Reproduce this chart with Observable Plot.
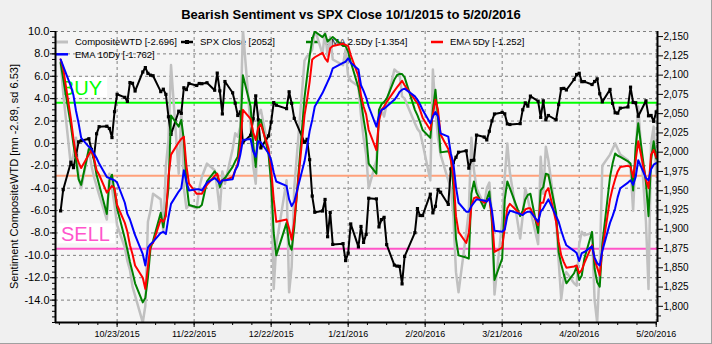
<!DOCTYPE html>
<html>
<head>
<meta charset="utf-8">
<script src="https://cdn.jsdelivr.net/npm/d3@7"></script>
<script src="https://cdn.jsdelivr.net/npm/@observablehq/plot@0.6"></script>
<style>
  html, body { margin: 0; padding: 0; background: #f0f0f0; }
  #chart svg { display: block; }
</style>
</head>
<body>
<div id="chart"></div>
<script>
// ---------- DATA ----------
const dates = [
"2015-10-01","2015-10-02","2015-10-05","2015-10-06","2015-10-07","2015-10-08","2015-10-09","2015-10-12","2015-10-13","2015-10-14","2015-10-15","2015-10-16","2015-10-19","2015-10-20","2015-10-21","2015-10-22","2015-10-23","2015-10-26","2015-10-27","2015-10-28","2015-10-29","2015-10-30",
"2015-11-02","2015-11-03","2015-11-04","2015-11-05","2015-11-06","2015-11-09","2015-11-10","2015-11-11","2015-11-12","2015-11-13","2015-11-16","2015-11-17","2015-11-18","2015-11-19","2015-11-20","2015-11-23","2015-11-24","2015-11-25","2015-11-27","2015-11-30",
"2015-12-01","2015-12-02","2015-12-03","2015-12-04","2015-12-07","2015-12-08","2015-12-09","2015-12-10","2015-12-11","2015-12-14","2015-12-15","2015-12-16","2015-12-17","2015-12-18","2015-12-21","2015-12-22","2015-12-23","2015-12-24","2015-12-28","2015-12-29","2015-12-30","2015-12-31",
"2016-01-04","2016-01-05","2016-01-06","2016-01-07","2016-01-08","2016-01-11","2016-01-12","2016-01-13","2016-01-14","2016-01-15","2016-01-19","2016-01-20","2016-01-21","2016-01-22","2016-01-25","2016-01-26","2016-01-27","2016-01-28","2016-01-29",
"2016-02-01","2016-02-02","2016-02-03","2016-02-04","2016-02-05","2016-02-08","2016-02-09","2016-02-10","2016-02-11","2016-02-12","2016-02-16","2016-02-17","2016-02-18","2016-02-19","2016-02-22","2016-02-23","2016-02-24","2016-02-25","2016-02-26","2016-02-29",
"2016-03-01","2016-03-02","2016-03-03","2016-03-04","2016-03-07","2016-03-08","2016-03-09","2016-03-10","2016-03-11","2016-03-14","2016-03-15","2016-03-16","2016-03-17","2016-03-18","2016-03-21","2016-03-22","2016-03-23","2016-03-24","2016-03-28","2016-03-29","2016-03-30","2016-03-31",
"2016-04-01","2016-04-04","2016-04-05","2016-04-06","2016-04-07","2016-04-08","2016-04-11","2016-04-12","2016-04-13","2016-04-14","2016-04-15","2016-04-18","2016-04-19","2016-04-20","2016-04-21","2016-04-22","2016-04-25","2016-04-26","2016-04-27","2016-04-28","2016-04-29",
"2016-05-02","2016-05-03","2016-05-04","2016-05-05","2016-05-06","2016-05-09","2016-05-10","2016-05-11","2016-05-12","2016-05-13","2016-05-16","2016-05-17","2016-05-18","2016-05-19","2016-05-20"
];

const spxClose = [
1923.82,1951.36,1987.05,1979.92,1995.83,2013.43,2014.89,2017.46,2003.69,1994.24,2023.86,2033.11,2033.66,2030.77,2018.94,2052.51,2075.15,2071.18,2065.89,2090.35,2089.41,2079.36,
2104.05,2109.79,2102.31,2099.93,2099.20,2078.58,2081.72,2075.00,2045.97,2023.04,2053.19,2050.44,2083.58,2081.24,2089.17,2086.59,2089.14,2088.87,2090.11,2080.41,
2102.63,2079.51,2049.62,2091.69,2077.07,2063.59,2047.62,2052.23,2012.37,2021.94,2043.41,2073.07,2041.89,2005.55,2021.15,2038.97,2064.29,2060.99,2056.50,2078.36,2063.36,2043.94,
2012.66,2016.71,1990.26,1943.09,1922.03,1923.67,1938.68,1890.28,1921.84,1880.33,1881.33,1859.33,1868.99,1906.90,1877.08,1903.63,1882.95,1893.36,1940.24,
1939.38,1903.03,1912.53,1915.45,1880.05,1853.44,1852.21,1851.86,1829.08,1864.78,1895.58,1926.82,1917.83,1917.78,1945.50,1921.27,1929.80,1951.70,1948.05,1932.23,
1978.35,1986.45,1993.40,1999.99,2001.76,1979.26,1989.26,1989.57,2022.19,2019.64,2015.93,2027.22,2040.59,2049.58,2051.60,2049.80,2036.71,2035.94,2037.05,2055.01,2063.95,2059.74,
2072.78,2066.13,2045.17,2066.66,2041.91,2047.60,2041.99,2061.72,2082.42,2082.78,2080.73,2094.34,2100.80,2102.40,2091.48,2091.58,2087.79,2091.70,2095.15,2075.81,2065.30,
2081.43,2063.37,2051.12,2050.63,2057.14,2058.69,2084.39,2064.46,2064.11,2046.61,2066.66,2047.21,2047.63,2040.04,2052.32
];

const compositeWTD = [
7.3,4.5,-2.0,-1.0,0.5,-3.0,-4.0,-0.5,-2.0,-3.0,-3.8,-4.6,-6.8,-2.7,-4.0,-5.5,-7.3,-9.3,-10.5,-11.3,-12.8,-13.6,
-16.0,-14.5,-7.0,-6.0,-4.5,-5.0,-7.9,-2.0,0.3,7.0,-2.7,3.0,-4.0,-5.8,-5.5,-5.8,-4.0,-3.0,-1.8,-2.4,
-4.0,-6.0,-2.5,-3.6,-0.5,0.9,0.6,1.5,10.2,1.5,-2.0,-3.6,2.5,3.0,-0.5,-3.6,-13.0,-9.1,-3.3,-13.3,-11.0,-4.0,
7.4,7.8,8.0,8.4,10.2,8.0,10.0,7.8,9.5,7.5,7.0,8.4,6.0,5.6,5.1,2.5,0.5,-1.0,-4.0,
-1.5,2.1,3.0,2.4,3.5,6.6,6.4,6.3,4.2,4.0,1.8,1.3,1.0,0.0,-3.3,6.6,3.0,0.5,-1.0,-3.3,
-4.0,-6.5,-11.5,-13.3,-8.0,-6.0,0.5,-2.4,-4.0,-5.5,-4.0,-3.5,-6.5,-13.5,-7.0,-3.0,0.0,-2.6,-8.5,-6.5,-4.0,-5.0,
-6.0,-9.0,-1.2,-4.5,-0.3,-1.5,-6.8,-10.5,-13.9,-12.0,-11.5,-12.5,-12.7,-9.0,-7.9,-8.2,-8.0,-14.0,-16.0,-11.0,-2.0,
-1.0,-0.5,0.0,-0.5,-1.0,-1.5,-2.2,-6.0,-1.0,3.3,-7.0,-13.0,0.0,1.5,-2.696
];

const ema25 = [
7.2,5.8,1.6,-0.1,-1.5,-3.2,-3.7,-0.5,-0.6,-1.5,-2.8,-3.7,-6.3,-3.3,-2.8,-4.3,-5.8,-8.5,-9.5,-10.6,-11.5,-12.5,
-14.2,-13.8,-12.0,-9.4,-8.7,-6.2,-7.5,-6.0,-4.0,2.5,1.5,2.1,0.3,-3.5,-5.5,-5.7,-5.7,-5.5,-3.4,-2.5,
-2.8,-3.9,-3.3,-3.1,-2.1,-1.6,-1.2,1.0,6.1,3.3,0.0,-2.1,1.8,2.1,-1.0,-3.5,-8.0,-10.0,-7.1,-9.0,-9.5,-7.5,
4.1,6.0,7.8,9.3,10.0,9.5,9.8,9.1,9.3,9.5,8.7,8.7,8.2,7.3,5.0,3.8,2.2,0.8,-1.8,
-2.7,3.0,3.5,3.7,4.0,5.7,6.1,6.2,6.2,5.9,3.0,2.5,1.9,1.2,0.5,3.0,4.8,2.3,-0.8,-0.7,
-1.0,-4.0,-8.5,-10.0,-10.2,-10.3,-4.5,-3.4,-4.4,-5.8,-5.0,-4.3,-7.0,-12.2,-10.3,-5.0,-3.4,-4.0,-6.5,-6.0,-5.0,-4.6,
-4.5,-8.0,-4.2,-3.9,-2.7,-2.8,-6.2,-9.7,-10.8,-11.7,-12.5,-11.6,-11.0,-12.2,-11.8,-10.3,-7.9,-11.2,-12.4,-12.8,-9.0,
-3.0,-1.8,-0.9,-1.1,-1.2,-1.6,-1.8,-4.2,-0.3,1.8,-3.5,-6.5,-1.5,0.2,-1.354
];

const ema5 = [
7.5,6.7,2.2,0.4,-1.1,-1.7,-2.2,-1.0,-0.6,-1.3,-2.4,-2.8,-4.4,-4.1,-3.8,-4.0,-5.5,-7.1,-7.9,-9.1,-9.9,-10.9,
-12.0,-13.0,-11.0,-9.1,-8.9,-6.8,-7.0,-6.5,-3.0,-1.0,0.1,0.4,0.6,-2.0,-3.6,-4.5,-4.5,-4.5,-3.7,-2.9,
-2.7,-3.5,-3.3,-3.3,-3.0,-2.4,-1.8,-0.3,3.0,2.2,1.0,0.3,1.4,1.7,-0.5,-2.3,-5.0,-7.0,-6.8,-7.6,-8.6,-7.0,
2.5,3.9,5.5,7.5,7.7,8.1,7.6,7.3,8.5,8.7,8.9,8.8,8.7,7.9,6.0,4.3,3.3,2.6,1.2,
-0.6,2.0,3.0,3.3,3.7,4.7,5.0,5.3,5.6,5.2,3.9,3.6,3.0,2.3,1.2,2.6,3.9,3.0,0.8,-0.5,
-1.5,-2.9,-6.5,-7.9,-8.9,-8.0,-5.6,-4.9,-4.8,-5.3,-5.1,-5.0,-6.5,-9.7,-9.3,-7.5,-5.8,-5.4,-6.3,-6.3,-5.9,-5.8,
-5.8,-7.3,-5.3,-5.3,-4.3,-4.0,-7.0,-8.8,-10.0,-10.6,-11.1,-11.0,-10.9,-11.6,-11.3,-10.7,-9.1,-10.4,-11.1,-11.8,-9.5,
-5.0,-4.0,-3.2,-2.5,-2.1,-2.0,-2.1,-3.0,-1.5,0.2,-3.2,-4.0,-1.0,-0.6,-1.252
];

const ema10 = [
7.5,6.9,5.1,4.3,2.9,1.8,0.5,-0.3,-0.5,-0.9,-1.3,-1.8,-3.0,-3.1,-3.2,-3.3,-3.5,-5.3,-6.3,-6.8,-7.5,-8.2,
-9.9,-10.9,-9.3,-9.0,-8.8,-8.0,-7.9,-8.1,-6.6,-5.4,-4.3,-4.0,-2.4,-3.4,-4.2,-4.1,-4.1,-4.2,-3.5,-3.1,
-3.3,-3.6,-3.3,-3.3,-3.2,-2.4,-2.0,-1.0,0.3,0.4,-0.7,-1.2,0.2,0.1,-0.9,-1.5,-2.6,-3.4,-3.8,-5.0,-5.6,-5.2,
-1.6,-0.3,1.1,2.1,3.3,4.5,5.0,5.5,6.0,6.7,7.2,7.3,7.6,7.2,6.6,5.2,4.7,4.1,3.3,
1.5,2.5,3.0,3.1,3.3,3.9,4.2,4.6,4.8,4.9,4.2,3.9,3.5,3.0,1.8,2.4,2.8,2.4,0.9,0.6,
-0.9,-1.8,-3.9,-5.3,-6.1,-6.1,-5.6,-5.3,-5.0,-5.1,-5.2,-4.9,-6.0,-7.8,-7.9,-7.7,-6.5,-6.0,-6.3,-6.4,-6.2,-6.1,
-6.1,-7.0,-6.1,-5.8,-5.4,-5.0,-6.5,-7.0,-7.8,-8.5,-9.1,-9.6,-9.8,-10.5,-9.8,-9.7,-9.2,-10.2,-10.7,-10.9,-9.6,
-7.1,-6.5,-5.8,-4.8,-4.0,-3.5,-3.3,-3.7,-3.0,-1.5,-3.1,-3.3,-2.3,-1.9,-1.762
];

const seriesNames = ["CompositeWTD", "SPX Close", "EMA 2.5Dy", "EMA 5Dy", "EMA 10Dy"];
const seriesColors = ["#c0c0c0", "#000000", "#008000", "#ff0000", "#0000ff"];
const levelNames = ["BUY", "mean", "SELL"];
const levelValues = [3.64, -2.89, -9.42];
const levelColors = ["#00ff00", "#ffa07a", "#ff55c8"];
const xTickDates = ["2015-10-23","2015-11-22","2015-12-22","2016-01-21","2016-02-20","2016-03-21","2016-04-20","2016-05-20"];
const xTickLabels = ["10/23/2015","11/22/2015","12/22/2015","1/21/2016","2/20/2016","3/21/2016","4/20/2016","5/20/2016"];
const leftTicks = [10, 8, 6, 4, 2, 0, -2, -4, -6, -8, -10, -12, -14];
const rightTicks = [1800, 1825, 1850, 1875, 1900, 1925, 1950, 1975, 2000, 2025, 2050, 2075, 2100, 2125, 2150];
const titleText = "Bearish Sentiment vs SPX Close 10/1/2015 to 5/20/2016";
const yTitleText = "Sentiment CompositeWTD [mn -2.89, sd 6.53]";

// ---------- SCALES / SETUP ----------
const parse = s => new Date(s + "T00:00:00Z");
const rows = dates.map((s, i) => ({
  date: parse(s), comp: compositeWTD[i], e25: ema25[i], e5: ema5[i], e10: ema10[i], spx: spxClose[i]
}));
const xTicks = xTickDates.map(parse);
const xDomain = [parse("2015-09-29"), new Date(Date.UTC(2016, 4, 20, 12))];
const yDomain = [-16, 10];
const spxDomain = [1779, 2156.6];
const spxToY = d3.scaleLinear(spxDomain, yDomain);
const dayMs = 864e5;
const xMinor = d3.range(-3, 30).map(k => new Date(+xTicks[0] + k * 7.5 * dayMs))
  .filter(d => d >= xDomain[0] && d <= xDomain[1]);
const leftMinor = d3.range(-16, 10.001, 0.5);
const rightMinor = d3.range(1787.5, 2150, 25);

const lastOf = a => a[a.length - 1];
const legendLabels = [
  `${seriesNames[0]} [${lastOf(compositeWTD).toFixed(3)}]`,
  `${seriesNames[1]} [${Math.round(lastOf(spxClose))}]`,
  `${seriesNames[2]} [${lastOf(ema25).toFixed(3)}]`,
  `${seriesNames[3]} [${lastOf(ema5).toFixed(3)}]`,
  `${seriesNames[4]} [${lastOf(ema10).toFixed(3)}]`
];
const FONT = "'Liberation Sans', Arial, sans-serif";

const measure = (() => {
  const ctx = document.createElement("canvas").getContext("2d");
  return (txt, size, weight = "normal") => { ctx.font = `${weight} ${size}px ${FONT}`; return ctx.measureText(txt).width; };
})();

// background decorations: BUY / SELL boxes and legend
function behind(index, scales, values, dims) {
  const g = d3.create("svg:g").attr("text-anchor", "start");
  const L = scales.x(xDomain[0]), T = scales.y(yDomain[1]);
  [[0, "#00ff00"], [2, "#ff55cc"]].forEach(([k, col]) => {
    const y = scales.y(levelValues[k]);
    const txt = levelNames[k];
    const w = measure(txt, 20);
    g.append("rect").attr("x", L + 3).attr("y", y - 25).attr("width", w + 8).attr("height", 20).attr("fill", "white");
    g.append("text").attr("x", L + 6).attr("y", y - 7).attr("font-size", 20).attr("fill", col).text(txt);
  });
  const slots = [[0, 0], [0, 1], [0, 2], [0, 3], [1, 0]];
  slots.forEach(([row, col], i) => {
    const x0 = L + 1 + col * 125, y = T + 11 + row * 12.3;
    g.append("line").attr("x1", x0).attr("x2", x0 + 12).attr("y1", y).attr("y2", y)
      .attr("stroke", seriesColors[i]).attr("stroke-width", i === 0 ? 3 : 2.5);
    if (i === 1) g.append("rect").attr("x", x0 + 4).attr("y", y - 2).attr("width", 4).attr("height", 4).attr("fill", "black");
    if (i === 2) g.append("line").attr("x1", x0 + 6).attr("x2", x0 + 6).attr("y1", y - 5).attr("y2", y + 5).attr("stroke", seriesColors[2]).attr("stroke-width", 2);
    g.append("text").attr("x", x0 + 19).attr("y", y + 3.3).attr("font-size", 9.5).attr("fill", "black").text(legendLabels[i]);
  });
  return g.node();
}

function front(index, scales, values, dims) {
  const g = d3.create("svg:g");
  g.append("text").attr("x", 351).attr("y", 18.5).attr("text-anchor", "middle")
    .attr("font-size", 13).attr("font-weight", "bold").attr("fill", "black").text(titleText);
  const cy = (scales.y(yDomain[0]) + scales.y(yDomain[1])) / 2;
  g.append("text").attr("transform", `translate(18,${cy}) rotate(-90)`).attr("text-anchor", "middle")
    .attr("font-size", 11).attr("fill", "black").text(yTitleText);
  g.append("line").attr("x1", 711.5).attr("x2", 711.5).attr("y1", 0).attr("y2", 344).attr("stroke", "#a0a0a0");
  g.append("line").attr("x1", 0).attr("x2", 712).attr("y1", 343.5).attr("y2", 343.5).attr("stroke", "#a0a0a0");
  return g.node();
}

const grid = {stroke: "#808080", strokeDasharray: "3,3", strokeWidth: 1};

const chart = Plot.plot({
  width: 712,
  height: 344,
  marginTop: 31, marginRight: 55, marginBottom: 22, marginLeft: 55,
  style: {background: "#f0f0f0", fontFamily: FONT, fontSize: "11px", color: "black", overflow: "visible"},
  x: {type: "utc", domain: xDomain},
  y: {domain: yDomain},
  marks: [
    Plot.frame({fill: "#f5f5f5", stroke: "none"}),
    Plot.ruleY(leftTicks, grid),
    Plot.ruleX(xTicks, grid),
    Plot.ruleY([levelValues[0]], {stroke: levelColors[0], strokeWidth: 2}),
    Plot.ruleY([levelValues[1]], {stroke: levelColors[1], strokeWidth: 2}),
    Plot.ruleY([levelValues[2]], {stroke: levelColors[2], strokeWidth: 2}),
    behind,
    Plot.line(rows, {x: "date", y: "comp", stroke: seriesColors[0], strokeWidth: 2.5, clip: true}),
    Plot.line(rows, {x: "date", y: d => spxToY(d.spx), stroke: seriesColors[1], strokeWidth: 2, clip: true}),
    Plot.dot(rows, {x: "date", y: d => spxToY(d.spx), symbol: "square", r: 1.8, fill: seriesColors[1], stroke: "none"}),
    Plot.line(rows, {x: "date", y: "e25", stroke: seriesColors[2], strokeWidth: 2, clip: true}),
    Plot.line(rows, {x: "date", y: "e5", stroke: seriesColors[3], strokeWidth: 2, clip: true}),
    Plot.line(rows, {x: "date", y: "e10", stroke: seriesColors[4], strokeWidth: 2, clip: true}),
    Plot.ruleX([xDomain[0]], {stroke: "black", strokeWidth: 2}),
    Plot.ruleX([xDomain[1]], {stroke: "black", strokeWidth: 2}),
    Plot.ruleY([yDomain[0]], {stroke: "black", strokeWidth: 2}),
    Plot.axisY(leftTicks, {anchor: "left", tickSize: 5, tickPadding: 1, fontSize: 11, label: null, tickFormat: d => d.toFixed(1)}),
    Plot.axisY(leftMinor, {anchor: "left", tickSize: 3, label: null, tickFormat: () => ""}),
    Plot.axisY(rightTicks, {y: d => spxToY(d), anchor: "right", tickSize: 5, tickPadding: 1, fontSize: 10, label: null, tickFormat: d3.format(",")}),
    Plot.axisY(rightMinor, {y: d => spxToY(d), anchor: "right", tickSize: 3, label: null, tickFormat: () => ""}),
    Plot.axisX(xTicks, {tickSize: 5, tickPadding: 3, fontSize: 9, label: null,
      tickFormat: d => xTickLabels[xTicks.findIndex(t => +t === +d)]}),
    Plot.axisX(xMinor, {tickSize: 3, label: null, tickFormat: () => ""}),
    front
  ]
});
document.getElementById("chart").appendChild(chart);
</script>
</body>
</html>
